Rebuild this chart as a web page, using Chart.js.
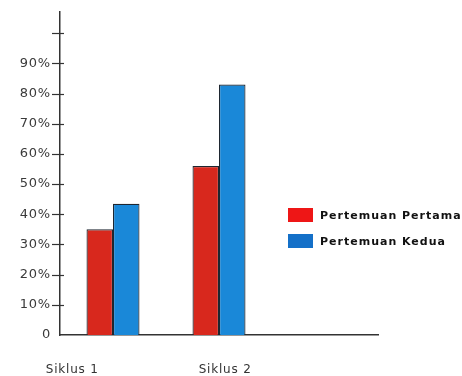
<!DOCTYPE html>
<html>
<head>
<meta charset="utf-8">
<script src="https://cdn.jsdelivr.net/npm/chart.js@4/dist/chart.umd.min.js"></script>
<style>
  html, body { margin: 0; padding: 0; background: #fff; }
  #wrap { position: relative; width: 462px; height: 376px; }
  #legend { position: absolute; left: 288px; top: 208px; font: bold 11px "DejaVu Sans", Arial, sans-serif; color: #111; }
  .item { display: flex; align-items: center; height: 14px; margin-bottom: 12px; white-space: nowrap; letter-spacing: 1px; }
  .sw { width: 25px; height: 14px; margin-right: 7px; }
</style>
</head>
<body>
<div id="wrap">
  <canvas id="c" width="462" height="376"></canvas>
  <div id="legend"></div>
</div>
<script>
const categories = ['Siklus 1', 'Siklus 2', ''];
const cycleLabels = ['Siklus 1', 'Siklus 2'];
const seriesNames = ['Pertemuan Pertama', 'Pertemuan Kedua'];
const pertemuanPertama = [35, 56, null];
const pertemuanKedua = [43.5, 83, null];
const yTickValues = [10, 20, 30, 40, 50, 60, 70, 80, 90, 100];

const barColors = ['#d8281d', '#1a88d8'];
const legendColors = ['#ee1616', '#1470c8'];

const crossTicks = {
  id: 'crossTicks',
  beforeDraw(chart) {
    chart.ctx.letterSpacing = '0.8px';
  },
  afterDraw(chart) {
    const y = chart.scales.y;
    const ctx = chart.ctx;
    ctx.save();
    ctx.strokeStyle = '#333';
    ctx.lineWidth = 1.2;
    const x0 = y.right;
    yTickValues.forEach(v => {
      const py = Math.round(y.getPixelForValue(v)) + 0.5;
      ctx.beginPath();
      ctx.moveTo(x0 - 8, py);
      ctx.lineTo(x0 + 4, py);
      ctx.stroke();
    });
    ctx.restore();
  }
};

const chart = new Chart(document.getElementById('c'), {
  type: 'bar',
  data: {
    labels: categories,
    datasets: [
      { label: seriesNames[0], data: pertemuanPertama, backgroundColor: barColors[0], borderColor: '#1e2630', borderWidth: 1.2, categoryPercentage: 0.5, barPercentage: 1 },
      { label: seriesNames[1], data: pertemuanKedua, backgroundColor: barColors[1], borderColor: '#1e2630', borderWidth: 1.2, categoryPercentage: 0.5, barPercentage: 1 }
    ]
  },
  options: {
    responsive: false,
    animation: false,
    layout: { padding: { top: 12, right: 84, left: 0, bottom: 0 } },
    plugins: { legend: { display: false }, tooltip: { enabled: false } },
    scales: {
      x: {
        offset: true,
        grid: { display: false, drawTicks: false },
        border: { display: true, color: '#333', width: 1.5 },
        ticks: { display: false },
        afterFit(s) { s.height = 0; }
      },
      x2: {
        type: 'linear',
        position: 'bottom',
        offset: false,
        min: 0.92,
        max: 3,
        grid: { display: false, drawTicks: false, offset: false },
        border: { display: false },
        ticks: {
          stepSize: 1,
          includeBounds: false,
          padding: 28,
          maxRotation: 0,
          autoSkip: false,
          color: '#333',
          font: { family: 'DejaVu Sans', size: 12 },
          callback: v => (Number.isInteger(v) && cycleLabels[v - 1]) ? cycleLabels[v - 1] : ''
        },
        afterFit(s) { s.height = 41; }
      },
      y: {
        min: 0,
        max: 107,
        grid: { display: false, drawTicks: false },
        border: { display: true, color: '#333', width: 1.5 },
        ticks: {
          stepSize: 10,
          padding: 9,
          color: '#3a3a3a',
          font: { family: 'DejaVu Sans', size: 13 },
          callback: v => v === 0 ? '0' : ((v % 10 === 0 && v < 100) ? v + '%' : '')
        },
        afterFit(s) { s.width = 60; s.paddingTop = 0; s.paddingBottom = 0; }
      }
    }
  },
  plugins: [crossTicks]
});

const legend = document.getElementById('legend');
chart.data.datasets.forEach((ds, i) => {
  const item = document.createElement('div');
  item.className = 'item';
  const sw = document.createElement('span');
  sw.className = 'sw';
  sw.style.background = legendColors[i];
  const t = document.createElement('span');
  t.textContent = ds.label;
  item.appendChild(sw);
  item.appendChild(t);
  legend.appendChild(item);
});
</script>
</body>
</html>
